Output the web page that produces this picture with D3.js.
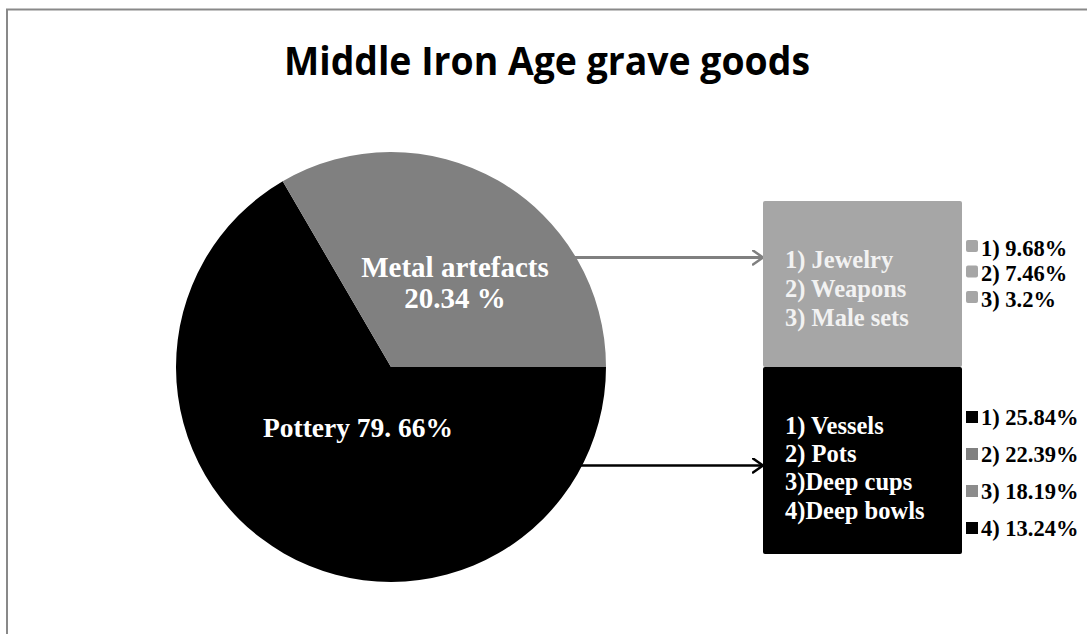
<!DOCTYPE html>
<html>
<head>
<meta charset="utf-8">
<script src="https://cdn.jsdelivr.net/npm/d3@7"></script>
<style>
  body { margin: 0; background: #fff; }
  svg { display: block; }
  .serif { font-family: 'Liberation Serif', 'Times New Roman', serif; font-weight: bold; }
</style>
</head>
<body>
<svg id="chart"></svg>
<script>
// main pie: labels as printed, slice shares as drawn in the picture
const mainCategories = ['Pottery', 'Metal artefacts']
const mainLabels = ['Pottery 79. 66%', 'Metal artefacts|20.34 %']
const mainShares = [66.6, 33.4]
const mainColors = ['#000000', '#808080']

// breakdown boxes
const metalItems = ['1) Jewelry', '2) Weapons', '3) Male sets']
const metalValues = ['1) 9.68%', '2) 7.46%', '3) 3.2%']
const metalSwatches = ['#a6a6a6', '#a6a6a6', '#a6a6a6']

const potteryItems = ['1) Vessels', '2) Pots', '3)Deep cups', '4)Deep bowls']
const potteryValues = ['1) 25.84%', '2) 22.39%', '3) 18.19%', '4) 13.24%']
const potterySwatches = ['#000000', '#808080', '#8c8c8c', '#000000']

const width = 1087
const height = 634

const svg = d3.select('#chart')
  .attr('width', width)
  .attr('height', height)

// outer frame (only top and left edges visible)
svg.append('path')
  .attr('d', `M7,${height} L7,9.5 L${width},9.5`)
  .attr('fill', 'none')
  .attr('stroke', '#898989')
  .attr('stroke-width', 2)

svg.append('text')
  .attr('x', 547)
  .attr('y', 75)
  .attr('text-anchor', 'middle')
  .attr('font-family', "'Liberation Sans Narrow', 'Open Sans', sans-serif")
  .attr('font-weight', 'bold')
  .attr('font-size', 40)
  .attr('textLength', 526)
  .attr('lengthAdjust', 'spacingAndGlyphs')
  .text('Middle Iron Age grave goods')

// pie
const cx = 391, cy = 367, r = 215
const pie = d3.pie()
  .sort(null)
  .value(d => d)
  .startAngle(Math.PI / 2)
  .endAngle(Math.PI / 2 + 2 * Math.PI)
const arcs = pie(mainShares)
const arc = d3.arc().innerRadius(0).outerRadius(r)

const pieG = svg.append('g').attr('transform', `translate(${cx},${cy})`)
pieG.selectAll('path')
  .data(arcs)
  .enter()
  .append('path')
    .attr('d', arc)
    .attr('fill', (d, i) => mainColors[i])

// slice labels
const labelPos = [[-33, 70], [64, -90]]
const labelSize = [27.5, 29]
pieG.selectAll('text.slice')
  .data(arcs)
  .enter()
  .append('text')
    .attr('class', 'slice serif')
    .attr('text-anchor', 'middle')
    .attr('fill', '#ffffff')
    .attr('font-size', (d, i) => labelSize[i])
    .attr('x', (d, i) => labelPos[i][0])
    .attr('y', (d, i) => labelPos[i][1])
    .each(function(d, i) {
      const lines = mainLabels[i].split('|')
      d3.select(this).selectAll('tspan')
        .data(lines)
        .enter()
        .append('tspan')
          .attr('x', labelPos[i][0])
          .attr('dy', (l, j) => j === 0 ? 0 : 31)
          .text(l => l)
    })

// arrow markers
const defs = svg.append('defs')
const markers = [['arrow-gray', '#808080'], ['arrow-black', '#000000']]
markers.forEach(([id, color]) => {
  defs.append('marker')
    .attr('id', id)
    .attr('viewBox', '0 0 12 16')
    .attr('refX', 11)
    .attr('refY', 8)
    .attr('markerWidth', 12)
    .attr('markerHeight', 16)
    .attr('markerUnits', 'userSpaceOnUse')
    .attr('orient', 'auto')
    .append('path')
      .attr('d', 'M1,1 L11,8 L1,15')
      .attr('fill', 'none')
      .attr('stroke', color)
      .attr('stroke-width', 2.5)
      .attr('stroke-linecap', 'round')
      .attr('stroke-linejoin', 'round')
})

svg.append('line')
  .attr('x1', 574).attr('y1', 257.5)
  .attr('x2', 763).attr('y2', 257.5)
  .attr('stroke', '#808080')
  .attr('stroke-width', 3)
  .attr('marker-end', 'url(#arrow-gray)')

svg.append('line')
  .attr('x1', 581).attr('y1', 465.5)
  .attr('x2', 763).attr('y2', 465.5)
  .attr('stroke', '#000000')
  .attr('stroke-width', 2.5)
  .attr('marker-end', 'url(#arrow-black)')

// breakdown boxes
function drawBox(cfg) {
  const g = svg.append('g')
  g.append('rect')
    .attr('x', cfg.x).attr('y', cfg.y)
    .attr('width', cfg.w).attr('height', cfg.h)
    .attr('rx', 2)
    .attr('fill', cfg.fill)

  const itemY = d3.scalePoint()
    .domain(cfg.items)
    .range(cfg.itemRange)
  g.selectAll('text.item')
    .data(cfg.items)
    .enter()
    .append('text')
      .attr('class', 'item serif')
      .attr('x', cfg.x + 22)
      .attr('y', d => itemY(d))
      .attr('dy', '0.35em')
      .attr('font-size', 24.5)
      .attr('fill', cfg.textFill)
      .text(d => d)

  const legY = d3.scalePoint()
    .domain(cfg.values)
    .range(cfg.legendRange)
  const leg = g.selectAll('g.leg')
    .data(cfg.values)
    .enter()
    .append('g')
      .attr('class', 'leg')
      .attr('transform', d => `translate(966,${legY(d)})`)
  leg.append('rect')
    .attr('x', 0)
    .attr('y', cfg.swatchDy)
    .attr('width', 12)
    .attr('height', 12)
    .attr('rx', cfg.swatchRx)
    .attr('fill', (d, i) => cfg.swatches[i])
  leg.append('text')
    .attr('class', 'serif')
    .attr('x', 15)
    .attr('dy', '0.35em')
    .attr('font-size', 22.5)
    .attr('fill', '#000')
    .text(d => d)
}

drawBox({
  x: 763, y: 201, w: 199, h: 166, fill: '#a6a6a6', textFill: '#f2f2f2',
  items: metalItems, itemRange: [259, 317],
  values: metalValues, legendRange: [248, 299],
  swatches: metalSwatches, swatchDy: -8, swatchRx: 2
})

drawBox({
  x: 763, y: 367, w: 199, h: 187, fill: '#000000', textFill: '#ffffff',
  items: potteryItems, itemRange: [425, 510],
  values: potteryValues, legendRange: [417, 528],
  swatches: potterySwatches, swatchDy: -6, swatchRx: 0
})
</script>
</body>
</html>
